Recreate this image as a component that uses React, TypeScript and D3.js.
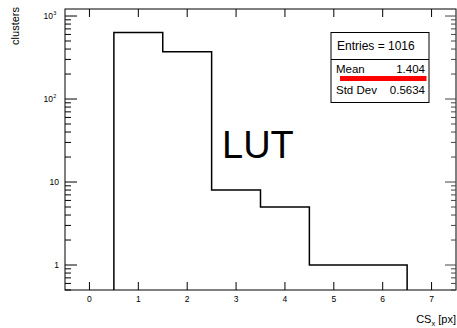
import React from "react";
import * as d3 from "d3";

// Cluster-size histogram (bin centres and counts)
const binCenters = [1, 2, 3, 4, 5, 6];
const binCounts = [631, 370, 8, 5, 1, 1];
const xTickValues = [0, 1, 2, 3, 4, 5, 6, 7];
const yMajorTicks = [1, 10, 100, 1000];
const yMajorLabels = [["1", ""], ["10", ""], ["10", "2"], ["10", "3"]];
const statLabels = ["Mean", "Std Dev"];
const statValues = ["1.404", "0.5634"];
const entriesLabel = "Entries = 1016";

const W = 457;
const H = 328;
const left = 65;
const right = 456;
const top = 9;
const bottom = 290;
const FONT = "'Liberation Sans', Arial, Helvetica, sans-serif";

export default function App() {
  const x = d3.scaleLinear().domain([-0.5, 7.5]).range([left, right]);
  const y = d3.scaleLog().domain([0.5, 1215]).range([bottom, top]);

  // stepped outline of the histogram
  const pts: [number, number][] = [];
  binCenters.forEach((c, i) => {
    const lo = c - 0.5;
    const hi = c + 0.5;
    if (i === 0) pts.push([x(lo), bottom]);
    pts.push([x(lo), y(binCounts[i])]);
    pts.push([x(hi), y(binCounts[i])]);
  });
  pts.push([x(binCenters[binCenters.length - 1] + 0.5), bottom]);
  const path = d3.line()(pts) as string;

  // minor log ticks inside the visible range
  const minor: number[] = [];
  for (let dec = 0.1; dec <= 1000; dec *= 10) {
    for (let m = 2; m <= 9; m++) {
      const v = +(m * dec).toPrecision(3);
      if (v >= 0.5 && v <= 1215) minor.push(v);
    }
  }

  return (
    <svg
      width={W}
      height={H}
      style={{ position: "absolute", left: 0, top: 0, background: "#fff" }}
      fontFamily={FONT}
    >
      <rect width={W} height={H} fill="#fff" />
      {/* histogram */}
      <path d={path} fill="none" stroke="#000" strokeWidth={1.5} />

      {/* frame */}
      <rect
        x={left}
        y={top}
        width={right - left}
        height={bottom - top}
        fill="none"
        stroke="#000"
        strokeWidth={1}
      />

      {/* x ticks bottom and top */}
      {xTickValues.map((v) => (
        <g key={"xt" + v}>
          <line x1={x(v)} x2={x(v)} y1={bottom} y2={bottom - 8} stroke="#000" />
          <line x1={x(v)} x2={x(v)} y1={top} y2={top + 8} stroke="#000" />
          <text x={x(v)} y={302} fontSize={8.5} textAnchor="middle" fill="#000">
            {v}
          </text>
        </g>
      ))}

      {/* y ticks left and right */}
      {yMajorTicks.map((v, i) => (
        <g key={"ym" + v}>
          <line x1={left} x2={left + 12} y1={y(v)} y2={y(v)} stroke="#000" />
          <line x1={right} x2={right - 11} y1={y(v)} y2={y(v)} stroke="#444" />
          <text x={yMajorLabels[i][1] ? 53 : 59} y={y(v) + 3} fontSize={8.5} textAnchor="end" fill="#000">
            {yMajorLabels[i][0]}
          </text>
          {yMajorLabels[i][1] && (
            <text x={53.2} y={y(v) - 1} fontSize={5.5} fill="#000">
              {yMajorLabels[i][1]}
            </text>
          )}
        </g>
      ))}
      {minor.map((v) => (
        <g key={"yn" + v}>
          <line x1={left} x2={left + 6} y1={y(v)} y2={y(v)} stroke="#000" />
          <line x1={right} x2={right - 5} y1={y(v)} y2={y(v)} stroke="#444" />
        </g>
      ))}

      {/* axis titles */}
      <text
        transform={`translate(19,7) rotate(-90)`}
        fontSize={11}
        textAnchor="end"
        fill="#000"
      >
        clusters
      </text>
      <text x={456} y={323} fontSize={11} textAnchor="end" fill="#000">
        CS
        <tspan fontSize={7.5} dy={3}>x</tspan>
        <tspan dy={-3}> [px]</tspan>
      </text>

      {/* big label */}
      <text x={222} y={158} fontSize={38} fill="#000">
        LUT
      </text>

      {/* statistics box */}
      <g>
        <rect x={331} y={32.5} width={98} height={70} fill="#fff" stroke="#000" strokeWidth={1} />
        <line x1={331} x2={429} y1={59.5} y2={59.5} stroke="#000" strokeWidth={1} />
        <text x={337} y={49.5} fontSize={12} fill="#000">
          {entriesLabel}
        </text>
        {statLabels.map((l, i) => (
          <g key={l}>
            <text x={336} y={73 + i * 21} fontSize={11.5} fill="#000">
              {l}
            </text>
            <text x={425} y={73 + i * 21} fontSize={11.5} textAnchor="end" fill="#000">
              {statValues[i]}
            </text>
          </g>
        ))}
        <line x1={340} x2={426.5} y1={78.5} y2={78.5} stroke="#f00" strokeWidth={5} />
      </g>
    </svg>
  );
}
